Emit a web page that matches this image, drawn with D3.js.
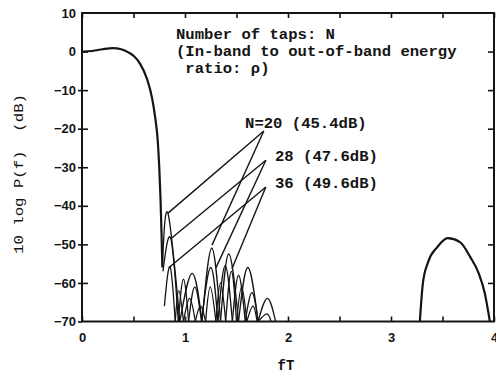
<!DOCTYPE html>
<html><head><meta charset="utf-8">
<script src="https://cdn.jsdelivr.net/npm/d3@7"></script>
<style>body{margin:0;background:#fff}svg{display:block}</style>
</head><body>
<svg id="c" width="496" height="375"></svg>
<script>
// ---------- data ----------
const xLabelTicks = [0, 1, 2, 3, 4];
const xMinorTicks = [0, 0.5, 1, 1.5, 2, 2.5, 3, 3.5, 4];
const yTicks = [10, 0, -10, -20, -30, -40, -50, -60, -70];

// pass band / main lobe (shared)
const mainF  = [0, 0.1, 0.2, 0.3, 0.38, 0.45, 0.5, 0.56, 0.63, 0.68, 0.71, 0.735, 0.75, 0.762, 0.772, 0.78];
const mainDb = [0, 0.15, 0.6, 0.9, 0.6, -0.2, -1.1, -3, -7, -12, -17, -23, -30, -38, -47, -56];

// side lobes: alternating null / peak points
const n20F  = [0.782, 0.835, 0.95, 1.07, 1.165, 1.26, 1.345, 1.425, 1.52, 1.61, 1.71, 1.80, 1.88];
const n20Db = [-55, -42, -70, -57.5, -70, -51, -70, -52.5, -70, -56, -70, -64, -70];
const n28F  = [0.786, 0.862, 0.935, 0.985, 1.035, 1.095, 1.16, 1.25, 1.32, 1.39, 1.46, 1.52, 1.585, 1.65, 1.71, 1.795, 1.835];
const n28Db = [-57, -48.5, -70, -59, -70, -61, -70, -56, -70, -55.5, -70, -58, -70, -62.5, -70, -68, -70];
const n36F  = [0.80, 0.855, 0.905, 0.94, 0.985, 1.045, 1.10, 1.15, 1.20, 1.245, 1.30, 1.345, 1.395, 1.45, 1.50, 1.55, 1.60, 1.66, 1.70];
const n36Db = [-66, -55.8, -70, -62, -70, -64, -70, -66, -70, -61, -70, -60, -70, -57, -70, -61, -70, -66, -70];

// image lobe near fT = 3.5
const farF  = [3.28, 3.31, 3.36, 3.45, 3.55, 3.67, 3.77, 3.85, 3.91, 3.96];
const farDb = [-70, -60, -54.6, -50.7, -48.4, -49.4, -53.3, -57.4, -62.6, -70];

// annotations
const noteLines = ["Number of taps: N", "(In-band to out-of-band energy", " ratio: \u03c1)"];
const seriesLabels = ["N=20 (45.4dB)", "28 (47.6dB)", "36 (49.6dB)"];
const labelF  = [1.583, 1.874, 1.874];
const labelDb = [-19.8, -28.3, -35.3];
const vertexF  = [1.765, 1.785, 1.785];
const vertexDb = [-20.6, -28.2, -35.1];
const leadLongF  = [0.835, 0.874, 0.854];
const leadLongDb = [-41.9, -48.3, -55.8];
const leadShortF  = [1.262, 1.30, 1.456];
const leadShortDb = [-50.2, -56.1, -56.3];

// ---------- drawing ----------
const svg = d3.select("#c");
const ink = "#141414";
const x = d3.scaleLinear().domain([0, 4]).range([82, 494]);
const y = d3.scaleLinear().domain([-70, 10]).range([321.5, 13]);

svg.append("defs").append("clipPath").attr("id", "plot")
  .append("rect").attr("x", x(0)).attr("y", y(10)).attr("width", x(4) - x(0)).attr("height", y(-70) - y(10));

const zip = (a, b) => a.map((v, i) => [v, b[i]]);
const line = d3.line().x(d => x(d[0])).y(d => y(d[1]));

// axes
const tickFont = "'Liberation Sans', Arial, sans-serif";
const gB = svg.append("g").attr("transform", `translate(0,${y(-70)})`)
  .call(d3.axisBottom(x).tickValues(xMinorTicks).tickSize(-5).tickPadding(11)
    .tickFormat(d => xLabelTicks.includes(d) ? d3.format("d")(d) : ""));
const gT = svg.append("g").attr("transform", `translate(0,${y(10)})`)
  .call(d3.axisTop(x).tickValues(xMinorTicks).tickSize(-5).tickFormat(""));
const gL = svg.append("g").attr("transform", `translate(${x(0)},0)`)
  .call(d3.axisLeft(y).tickValues(yTicks).tickSize(4).tickPadding(2));
const gL2 = svg.append("g").attr("transform", `translate(${x(0)},0)`)
  .call(d3.axisLeft(y).tickValues(yTicks.slice(1, -1)).tickSize(-6).tickFormat(""));
const gR = svg.append("g").attr("transform", `translate(${x(4)},0)`)
  .call(d3.axisRight(y).tickValues(yTicks.slice(1, -1)).tickSize(-6).tickFormat(""));
[gB, gT, gL, gL2, gR].forEach(g => {
  g.select(".domain").remove();
  g.selectAll(".tick line").attr("stroke", ink).attr("stroke-width", 1.6);
  g.selectAll("text").attr("fill", ink).attr("font-family", tickFont)
    .attr("font-weight", "bold").attr("font-size", 13);
});
gL.selectAll(".tick line").filter(d => d === 10 || d === 0).remove();

// frame
svg.append("rect").attr("x", x(0)).attr("y", y(10))
  .attr("width", x(4) - x(0)).attr("height", y(-70) - y(10))
  .attr("fill", "none").attr("stroke", ink).attr("stroke-width", 2);

const plot = svg.append("g").attr("clip-path", "url(#plot)");

// main lobe
plot.append("path").datum(zip(mainF, mainDb))
  .attr("d", line.curve(d3.curveMonotoneX))
  .attr("fill", "none").attr("stroke", ink).attr("stroke-width", 2.2);

// side lobes
const lobeLine = d3.line().x(d => x(d[0])).y(d => y(d[1])).curve(d3.curveNatural);
[[n20F, n20Db], [n28F, n28Db], [n36F, n36Db]].forEach(([fs, ds]) => {
  const pts = zip(fs, ds);
  for (let i = 1; i < pts.length - 1; i += 2) {
    plot.append("path").datum([pts[i - 1], pts[i], pts[i + 1]])
      .attr("d", lobeLine)
      .attr("fill", "none").attr("stroke", ink).attr("stroke-width", 1.3);
  }
});

// far lobe
plot.append("path").datum(zip(farF, farDb))
  .attr("d", d3.line().x(d => x(d[0])).y(d => y(d[1])).curve(d3.curveMonotoneX))
  .attr("fill", "none").attr("stroke", ink).attr("stroke-width", 2.2);

// leader lines
vertexF.forEach((vf, i) => {
  [[leadLongF[i], leadLongDb[i]], [leadShortF[i], leadShortDb[i]]].forEach(([tf, td]) => {
    svg.append("line")
      .attr("x1", x(vf)).attr("y1", y(vertexDb[i]))
      .attr("x2", x(tf)).attr("y2", y(td))
      .attr("stroke", ink).attr("stroke-width", 1.4);
  });
});

// text
const mono = "'Liberation Mono', 'DejaVu Sans Mono', monospace";
const cw = 9.35;
const noteY = [39, 56, 73];
noteLines.forEach((t, i) => {
  svg.append("text").attr("x", 176).attr("y", noteY[i])
    .attr("font-family", mono).attr("font-weight", "bold").attr("font-size", 14)
    .attr("textLength", t.length * cw).attr("lengthAdjust", "spacingAndGlyphs")
    .attr("fill", ink).style("white-space", "pre").text(t);
});
seriesLabels.forEach((t, i) => {
  svg.append("text").attr("x", x(labelF[i])).attr("y", y(labelDb[i]))
    .attr("font-family", mono).attr("font-weight", "bold").attr("font-size", 14)
    .attr("textLength", t.length * cw).attr("lengthAdjust", "spacingAndGlyphs")
    .attr("fill", ink).style("white-space", "pre").text(t);
});

// axis titles
const yTitle = "10 log P(f)  (dB)";
svg.append("text").attr("transform", "translate(23,174) rotate(-90)")
  .attr("text-anchor", "middle").attr("font-family", mono).attr("font-size", 13.5)
  .attr("textLength", 160).attr("lengthAdjust", "spacingAndGlyphs")
  .attr("fill", ink).style("white-space", "pre").text(yTitle);
svg.append("text").attr("x", 286).attr("y", 370).attr("text-anchor", "middle")
  .attr("font-family", mono).attr("font-weight", "bold").attr("font-size", 14)
  .attr("fill", ink).text("fT");
</script>
</body></html>
